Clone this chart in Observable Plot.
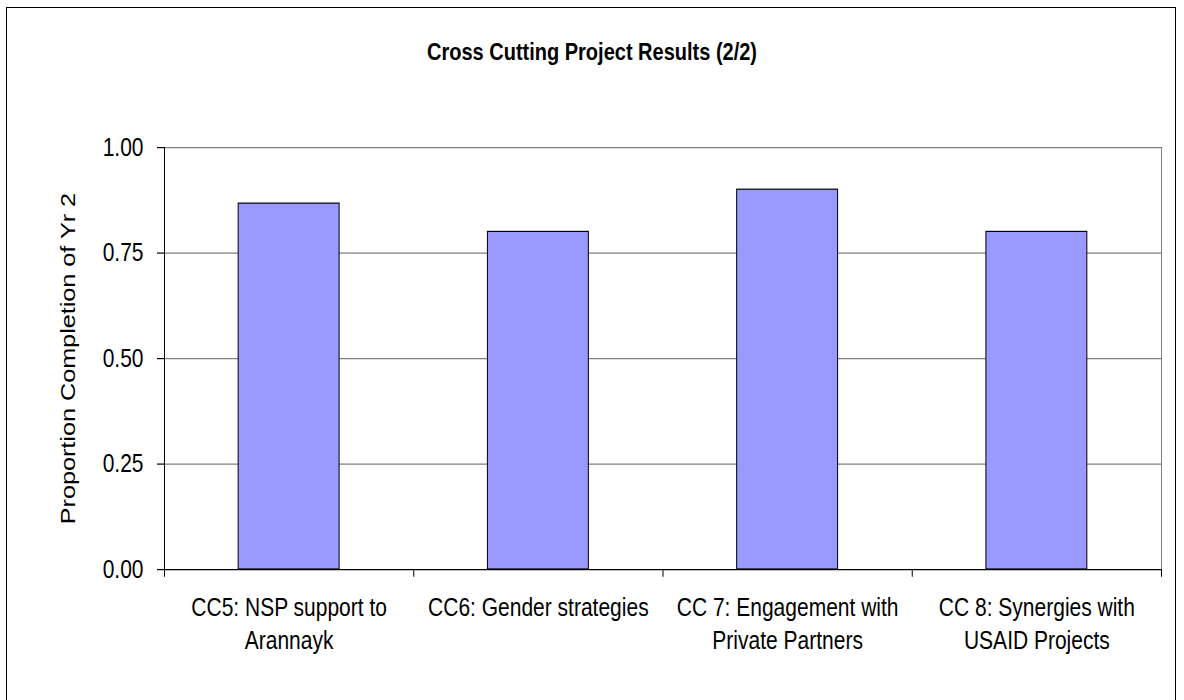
<!DOCTYPE html>
<html>
<head>
<meta charset="utf-8">
<script src="https://cdn.jsdelivr.net/npm/d3@7"></script>
<script src="https://cdn.jsdelivr.net/npm/@observablehq/plot@0.6"></script>
<style>
  html, body { margin: 0; padding: 0; width: 1184px; height: 700px; overflow: hidden; background: #fff; font-family: "Liberation Sans", Arial, sans-serif; }
  #frame { position: absolute; left: 6px; top: 7px; width: 1170px; height: 720px; border: 1.5px solid #000; box-sizing: border-box; }
  #title { position: absolute; left: 0; top: 39px; width: 1184px; text-align: center; font-weight: bold; font-size: 20px; line-height: 26px; color: #000; transform: scaleY(1.2); transform-origin: 50% 50%; }
  #chart { position: absolute; left: 0; top: 0; }
  #chart svg { transform: scaleY(1.2); transform-origin: 0 0; display: block; }
</style>
</head>
<body>
<div id="frame"></div>
<div id="title">Cross Cutting Project Results (2/2)</div>
<div id="chart"></div>
<script>
const title = "Cross Cutting Project Results (2/2)";
const yLabel = "Proportion Completion of Yr 2";
const categories = [
  "CC5: NSP support to\nArannayk",
  "CC6: Gender strategies",
  "CC 7: Engagement with\nPrivate Partners",
  "CC 8: Synergies with\nUSAID Projects"
];
const values = [0.867, 0.80, 0.90, 0.80];
const yTicks = [0, 0.25, 0.50, 0.75, 1.00];

const stretch = 1.2;          // reference is drawn vertically stretched
const barHalf = 0.2025;
const idx = categories.map((_, i) => i);

const chart = Plot.plot({
  width: 1184,
  height: 700 / stretch,
  marginTop: 147 / stretch,
  marginBottom: (700 - 569) / stretch,
  marginLeft: 164,
  marginRight: 23,
  style: { fontFamily: "'Liberation Sans', Arial, sans-serif", color: "#000", background: "transparent", overflow: "visible" },
  x: { domain: [0, categories.length], axis: null },
  y: { domain: [0, 1], axis: null },
  marks: [
    Plot.gridY(yTicks.filter(d => d > 0), { stroke: "#808080", strokeOpacity: 1, strokeWidth: 1 }),
    Plot.ruleX([categories.length], { stroke: "#808080", strokeWidth: 1 }),
    Plot.rectY(idx, {
      x1: i => i + 0.5 - barHalf,
      x2: i => i + 0.5 + barHalf,
      y1: 0,
      y2: i => values[i],
      fill: "#9999FF",
      stroke: "#000",
      strokeWidth: 1
    }),
    Plot.ruleX([0], { stroke: "#000", strokeWidth: 1 }),
    Plot.ruleY([0], { stroke: "#000", strokeWidth: 1 }),
    Plot.axisY({
      ticks: yTicks,
      tickFormat: d3.format(".2f"),
      tickSize: 7,
      tickPadding: 14,
      fontSize: 21,
      label: null,
      stroke: "#000"
    }),
    Plot.axisX({
      ticks: d3.range(0, categories.length + 1),
      tickFormat: () => "",
      tickSize: 6.5,
      label: null,
      stroke: "#000"
    }),
    Plot.axisX({
      ticks: idx.map(i => i + 0.5),
      tickFormat: d => categories[Math.floor(d)],
      tickSize: 0,
      tickPadding: 19,
      fontSize: 21,
      lineHeight: 1.31,
      label: null
    }),
    Plot.text([yLabel], {
      frameAnchor: "left",
      textAnchor: "middle",
      lineAnchor: "middle",
      rotate: -90,
      dx: -96,
      fontSize: 21,
      fill: "#000"
    })
  ]
});
document.getElementById("chart").appendChild(chart);
</script>
</body>
</html>
